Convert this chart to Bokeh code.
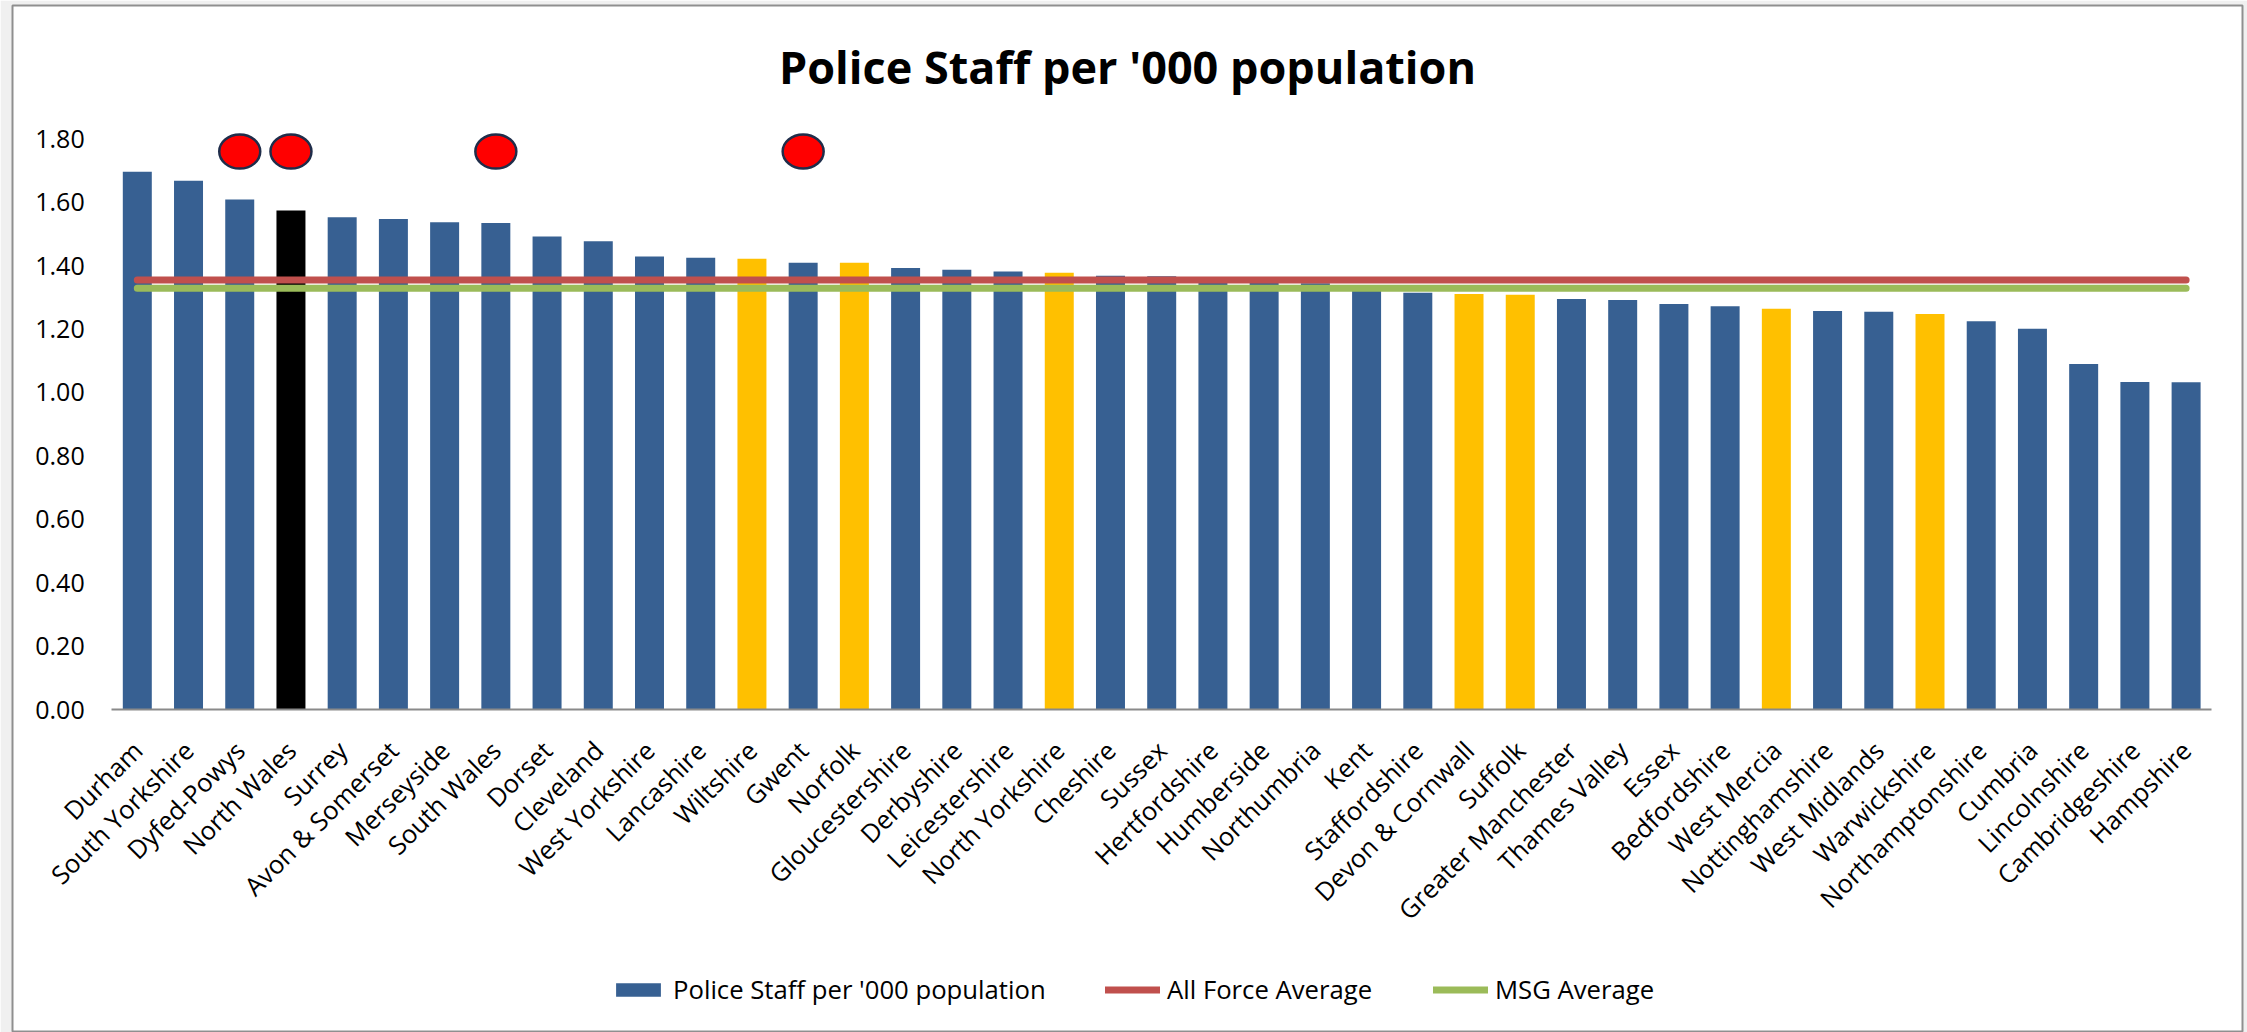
from math import pi
from bokeh.plotting import figure
from bokeh.models import (FixedTicker, NumeralTickFormatter, Label, Legend,
                          LegendItem, Range1d, ColumnDataSource)
from bokeh.embed import file_html
from bokeh.resources import INLINE

# ---------------- data ----------------
forces = [
    "Durham", "South Yorkshire", "Dyfed-Powys", "North Wales", "Surrey",
    "Avon & Somerset", "Merseyside", "South Wales", "Dorset", "Cleveland",
    "West Yorkshire", "Lancashire", "Wiltshire", "Gwent", "Norfolk",
    "Gloucestershire", "Derbyshire", "Leicestershire", "North Yorkshire",
    "Cheshire", "Sussex", "Hertfordshire", "Humberside", "Northumbria",
    "Kent", "Staffordshire", "Devon & Cornwall", "Suffolk",
    "Greater Manchester", "Thames Valley", "Essex", "Bedfordshire",
    "West Mercia", "Nottinghamshire", "West Midlands", "Warwickshire",
    "Northamptonshire", "Cumbria", "Lincolnshire", "Cambridgeshire",
    "Hampshire",
]
staff_per_1000 = [
    1.696, 1.668, 1.609, 1.574, 1.553,
    1.547, 1.537, 1.535, 1.492, 1.477,
    1.429, 1.425, 1.422, 1.409, 1.409,
    1.393, 1.387, 1.382, 1.378,
    1.368, 1.367, 1.350, 1.348, 1.345,
    1.330, 1.315, 1.311, 1.308,
    1.295, 1.292, 1.279, 1.272,
    1.264, 1.257, 1.255, 1.248,
    1.225, 1.201, 1.090, 1.033,
    1.032,
]
msg_forces = ["Wiltshire", "Norfolk", "North Yorkshire", "Devon & Cornwall",
              "Suffolk", "West Mercia", "Warwickshire"]
focus_force = "North Wales"
all_force_average = 1.355
msg_average = 1.329
marked_forces = ["Dyfed-Powys", "North Wales", "South Wales", "Gwent"]
marker_level = [1.76, 1.76, 1.76, 1.76]
y_ticks = [0.0, 0.2, 0.4, 0.6, 0.8, 1.0, 1.2, 1.4, 1.6, 1.8]

# ---------------- styles ----------------
BLUE = "#376092"
GOLD = "#FFC000"
BLACK = "#000000"
RED = "#C0504D"
GREEN = "#9BBB59"
FONT = "Open Sans"

pos = list(range(len(forces)))          # category slots on the x scale
colors = [BLACK if f == focus_force else (GOLD if f in msg_forces else BLUE)
          for f in forces]
src = ColumnDataSource(dict(pos=pos, value=staff_per_1000, color=colors))

# frame covers the chart area; value 0 at y=709px, 317 px per unit,
# category slot 51.22 px wide, first slot centred at x=136.8px
p = figure(width=2247, height=1032,
           x_range=Range1d(-2.4365, 41.101),
           y_range=Range1d(-1.0189, 2.2208),
           output_backend="svg", toolbar_location=None, title=None,
           min_border_left=12, min_border_right=5,
           min_border_top=5, min_border_bottom=0)
p.outline_line_color = "#8f8f8f"
p.outline_line_width = 2
p.background_fill_color = "white"
p.border_fill_color = "#f0f0f0"
p.xgrid.grid_line_color = None
p.ygrid.grid_line_color = None

bars = p.vbar(x="pos", top="value", width=0.566, source=src,
              fill_color="color", line_color=None)

line_red = p.line(x=pos, y=[all_force_average] * len(forces),
                  line_color=RED, line_width=7, line_cap="round")
line_green = p.line(x=pos, y=[msg_average] * len(forces),
                    line_color=GREEN, line_width=7, line_cap="round")

p.ellipse(x=[forces.index(f) for f in marked_forces], y=marker_level,
          width=41, height=34, width_units="screen", height_units="screen",
          fill_color="#FF0000", line_color="#1F2D4A", line_width=2.5)

# axes
xa = p.xaxis[0]
xa.fixed_location = 0
xa.bounds = (-0.5, len(forces) - 0.5)
xa.ticker = FixedTicker(ticks=pos, minor_ticks=[])
xa.major_label_overrides = {i: f for i, f in zip(pos, forces)}
xa.axis_line_color = "#8a8a8a"
xa.axis_line_width = 2
xa.major_tick_line_color = None
xa.minor_tick_line_color = None
xa.major_tick_out = 0
xa.major_tick_in = 0
xa.major_label_orientation = pi / 4
xa.major_label_text_font = FONT
xa.major_label_text_font_size = "25.5px"
xa.major_label_text_color = "black"
xa.major_label_standoff = 36

ya = p.yaxis[0]
ya.fixed_location = -0.5
ya.axis_line_color = None
ya.major_tick_line_color = None
ya.minor_tick_line_color = None
ya.major_tick_out = 0
ya.major_tick_in = 0
ya.ticker = FixedTicker(ticks=y_ticks, minor_ticks=[])
ya.formatter = NumeralTickFormatter(format="0.00")
ya.major_label_text_font = FONT
ya.major_label_text_font_size = "25px"
ya.major_label_text_color = "black"
ya.major_label_standoff = 27

# title
p.add_layout(Label(x=1115, y=966, x_units="screen", y_units="screen",
                   text="Police Staff per '000 population",
                   text_align="center", text_baseline="alphabetic",
                   text_font=FONT, text_font_style="bold",
                   text_font_size="45px", text_color="black"))

# legends
def make_legend(item, x, gw, gh):
    lg = Legend(items=[item],
                location=(x, 25), orientation="horizontal",
                glyph_width=gw, glyph_height=gh, label_standoff=7,
                padding=0, margin=0, border_line_color=None,
                background_fill_alpha=0, label_text_font=FONT,
                label_text_font_size="25.7px", label_text_color="black")
    p.add_layout(lg)

make_legend(LegendItem(label="Police Staff per '000 population",
                       renderers=[bars], index=0), 598, 56, 17)
make_legend(LegendItem(label="All Force Average", renderers=[line_red]),
            1093, 55, 17)
make_legend(LegendItem(label="MSG Average", renderers=[line_green]),
            1421, 55, 17)

open("out.html", "w").write(file_html(p, INLINE))
